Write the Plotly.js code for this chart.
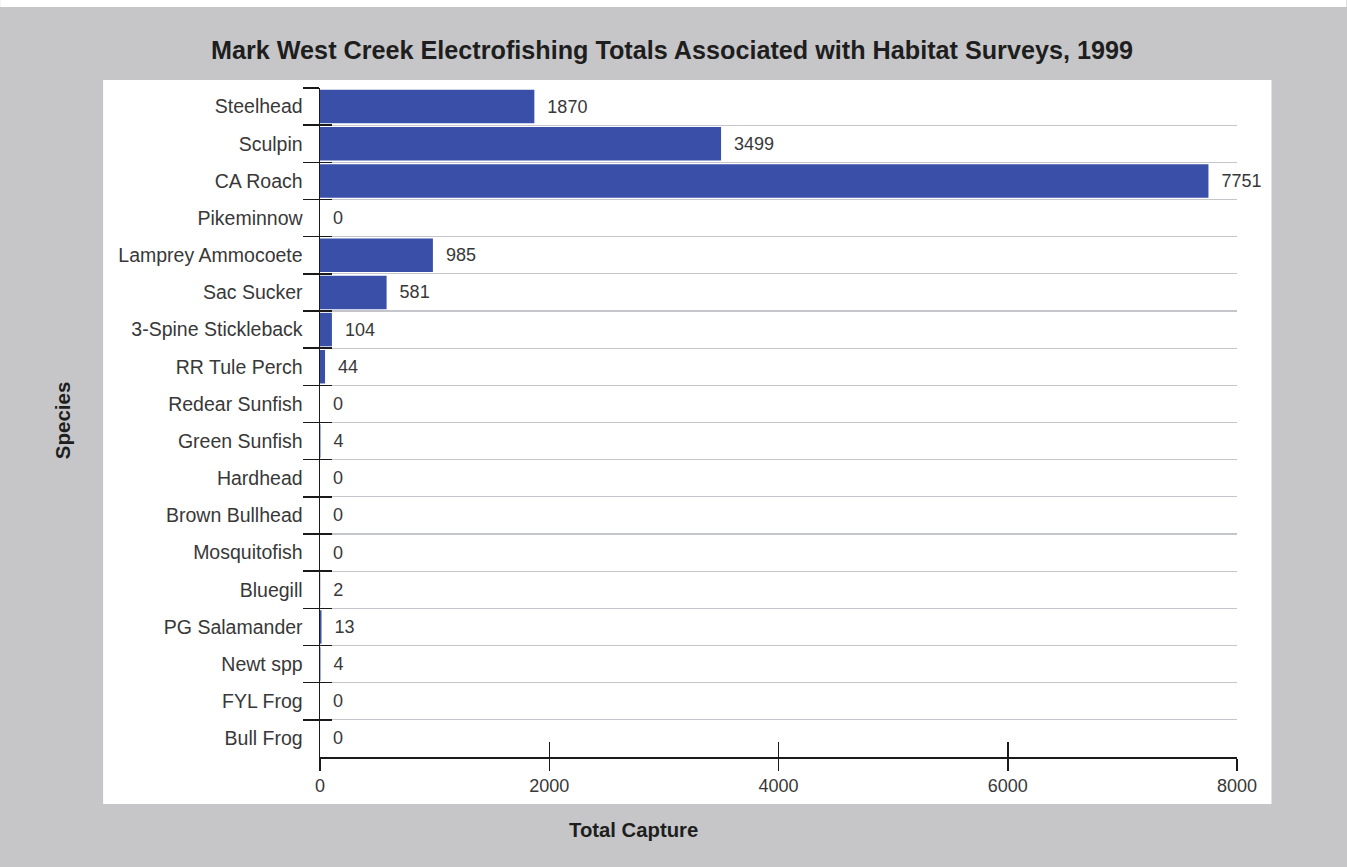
<!DOCTYPE html>
<html>
<head>
<meta charset="utf-8">
<script src="https://cdn.plot.ly/plotly-3.0.1.min.js"></script>
<style>html,body{margin:0;padding:0;background:#c6c6c8;}#chart{width:1347px;height:867px;}</style>
</head>
<body>
<div id="chart"></div>
<script>
var species = ["Steelhead","Sculpin","CA Roach","Pikeminnow","Lamprey Ammocoete","Sac Sucker","3-Spine Stickleback","RR Tule Perch","Redear Sunfish","Green Sunfish","Hardhead","Brown Bullhead","Mosquitofish","Bluegill","PG Salamander","Newt spp","FYL Frog","Bull Frog"];
var totals = [1870,3499,7751,0,985,581,104,44,0,4,0,0,0,2,13,4,0,0];
var xTicks = [0,2000,4000,6000,8000];
var titleText = "Mark West Creek Electrofishing Totals Associated with Habitat Surveys, 1999";
var xTitle = "Total Capture";
var yTitle = "Species";

var FONT = "Liberation Sans, Arial, sans-serif";
var W = 917.5, L = 320, T = 88, H = 669;
function px(x){ return (x - L) / W; }
function py(y){ return (T + H - y) / H; }
var nCat = species.length;

var traces = [
  {
    type: "bar", orientation: "h",
    x: totals, y: species,
    marker: {color: "#3a4fa8", line: {width: 0}},
    text: totals.map(String),
    texttemplate: "\u00a0\u00a0%{text}",
    textposition: "outside",
    constraintext: "none",
    cliponaxis: false,
    textfont: {family: FONT, size: 18, color: "#383838"},
    hoverinfo: "x+y"
  },
  {
    type: "scatter", mode: "markers",
    x: totals, y: species,
    xaxis: "x2", yaxis: "y2",
    marker: {opacity: 0}, hoverinfo: "skip", showlegend: false
  }
];

var layout = {
  width: 1347, height: 867,
  paper_bgcolor: "#c6c6c8",
  plot_bgcolor: "rgba(0,0,0,0)",
  margin: {l: L, r: 1347 - L - W, t: T, b: 867 - T - H, pad: 0},
  showlegend: false,
  bargap: 0.1,
  xaxis: {
    range: [0, 8000], tickvals: xTicks, ticktext: xTicks.map(String),
    showgrid: false, zeroline: false,
    showline: true, linecolor: "#1a1a1a", linewidth: 1.5,
    ticks: "outside", ticklen: 12, tickwidth: 1.5, tickcolor: "#1a1a1a",
    tickfont: {family: FONT, size: 18, color: "#383838"},
    fixedrange: true
  },
  xaxis2: {
    overlaying: "x", range: [0, 8000], tickvals: xTicks,
    showticklabels: false, showgrid: false, zeroline: false, showline: false,
    ticks: "inside", ticklen: 15, tickwidth: 1.5, tickcolor: "#1a1a1a"
  },
  yaxis: {
    type: "category", categoryorder: "array", categoryarray: species,
    range: [nCat - 0.5, -0.5],
    tickson: "boundaries",
    showgrid: true, gridcolor: "#c4c6cc", gridwidth: 1.2,
    showline: true, linecolor: "#1a1a1a", linewidth: 1.5,
    ticks: "outside", ticklen: 16, tickwidth: 1.5, tickcolor: "#1a1a1a",
    tickfont: {family: FONT, size: 19.5, color: "#383838"},
    ticklabelstandoff: 12,
    fixedrange: true
  },
  yaxis2: {
    type: "category", categoryorder: "array", categoryarray: species,
    overlaying: "y", range: [nCat - 0.5, -0.5],
    tickson: "boundaries",
    showticklabels: false, showgrid: false, showline: false, zeroline: false,
    ticks: "inside", ticklen: 12, tickwidth: 1.5, tickcolor: "#1a1a1a"
  },
  shapes: [
    {type: "rect", xref: "paper", yref: "paper", layer: "below",
     x0: px(103), x1: px(1272), y0: py(804), y1: py(80),
     fillcolor: "#ffffff", line: {width: 0}},
    {type: "rect", xref: "paper", yref: "paper", layer: "below",
     x0: px(0), x1: px(1347), y0: py(7), y1: py(0),
     fillcolor: "#ffffff", line: {width: 0}}
  ],
  annotations: [
    {text: "<b>" + titleText + "</b>", xref: "paper", yref: "paper",
     x: px(672), y: py(50), xanchor: "center", yanchor: "middle", showarrow: false,
     font: {family: FONT, size: 25.2, color: "#1e1e1e"}},
    {text: "<b>" + yTitle + "</b>", xref: "paper", yref: "paper",
     x: px(62), y: py(420), xanchor: "center", yanchor: "middle", showarrow: false,
     textangle: -90, font: {family: FONT, size: 20.5, color: "#1e1e1e"}},
    {text: "<b>" + xTitle + "</b>", xref: "paper", yref: "paper",
     x: px(634), y: py(830), xanchor: "center", yanchor: "middle", showarrow: false,
     font: {family: FONT, size: 20.3, color: "#1e1e1e"}}
  ]
};

Plotly.newPlot("chart", traces, layout, {displayModeBar: false, staticPlot: true});
</script>
</body>
</html>
